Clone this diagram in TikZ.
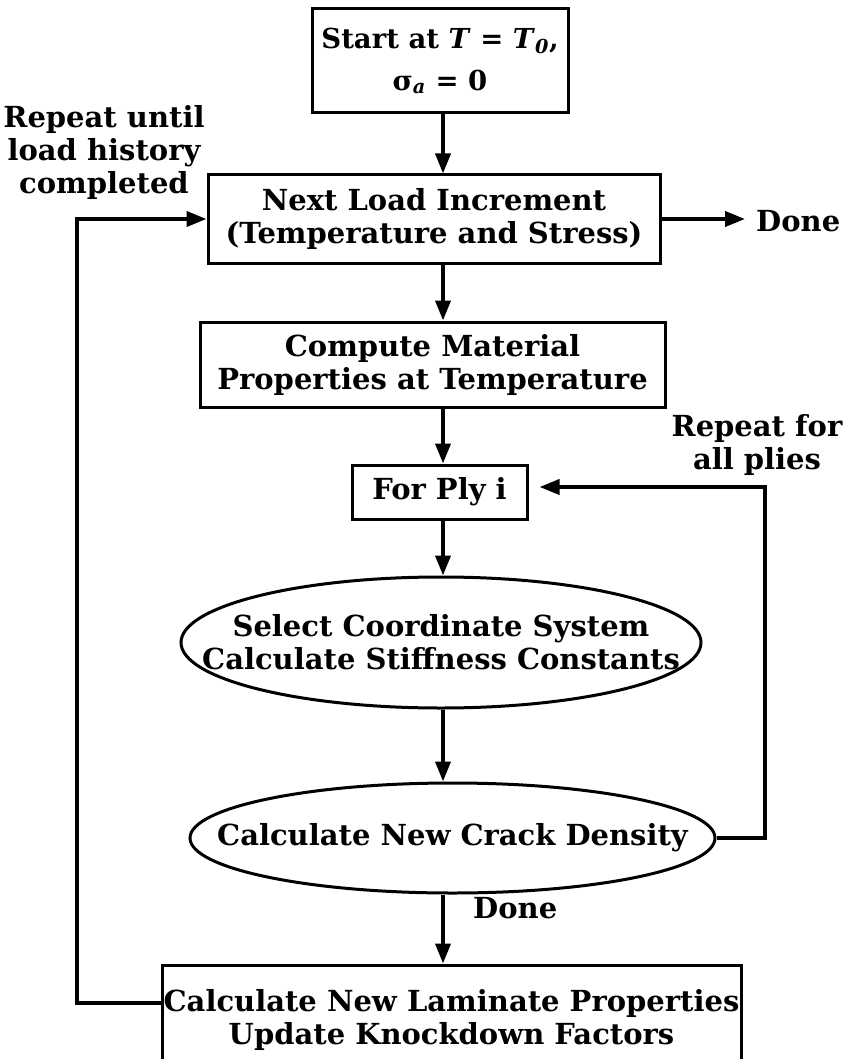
\documentclass[tikz,border=0pt]{standalone}
\usepackage{fontspec}
\setmainfont{DejaVu Serif}
\usetikzlibrary{arrows.meta,shapes.geometric}
\tikzset{
  txt/.style={font=\fontsize{29}{33}\selectfont\bfseries, align=center, inner sep=0pt},
  box/.style={draw, line width=3pt, rectangle, inner sep=0pt, txt},
  oval/.style={draw, line width=3pt, ellipse, inner sep=0pt},
  conn/.style={line width=3.8pt, -{Triangle[length=20pt,width=15pt]}},
}
\begin{document}
\begin{tikzpicture}[x=1pt,y=-1pt]
\useasboundingbox (0,0) rectangle (843,1059);
\fill[white] (0,0) rectangle (843,1059);
\clip (0,0) rectangle (843,1059);
\coordinate (ax) at (443,0);
\coordinate (lc) at (77,1003);
\coordinate (rc) at (765,487);
% nodes
\node[box, minimum width=256pt, minimum height=104pt, font=\fontsize{27.5}{42}\selectfont\bfseries] (start) at (440,61)
  {Start at \textit{T} = \textit{T}\textsubscript{\textit{0}},\\ σ\textsubscript{\textit{a}} = 0};
\node[box, minimum width=452pt, minimum height=88pt] (next) at (434,219)
  {Next Load Increment\\(Temperature and Stress)};
\node[box, minimum width=465pt, minimum height=85pt] (comp) at (432.5,364.5)
  {Compute Material\\Properties at Temperature};
\node[box, minimum width=175pt, minimum height=54pt] (ply) at (439.5,492)
  {For Ply i};
\node[oval, minimum width=520pt, minimum height=131pt] (e1) at (441,642.5) {};
\node[txt] (e1t) at (e1) {Select Coordinate System\\Calculate Stiffness Constants};
\node[oval, minimum width=525pt, minimum height=110pt] (e2) at (452.5,838) {};
\node[txt] (e2t) at (e2) {Calculate New Crack Density};
\node[box, minimum width=579pt, minimum height=110pt] (bot) at (451.5,1020)
  {Calculate New Laminate Properties\\Update Knockdown Factors};
% labels
\node[txt] (rep1) at (104,153) {Repeat until\\load history\\completed};
\node[txt] (rep2) at (757,445) {Repeat for\\all plies};
\node[txt, anchor=west] (done1) at (756,221) {Done};
\node[txt, anchor=west] (done2) at (473,908) {Done};
% connectors
\draw[conn] (start.south -| ax) -- (next.north -| ax);
\draw[conn] (next.south -| ax) -- (comp.north -| ax);
\draw[conn] (comp.south -| ax) -- (ply.north -| ax);
\draw[conn] (ply.south -| ax) -- (e1.north -| ax);
\draw[conn] (e1.south -| ax) -- (e2.north -| ax);
\draw[conn] (e2.south -| ax) -- (bot.north -| ax);
\draw[conn] (next.east) -- ([xshift=-11pt]next.east -| done1.west);
\draw[conn] (bot.west |- lc) -- (lc) -- (lc |- next.west) -- (next.west);
\draw[conn] (e2.east) -- (e2.east -| rc) -- (rc) -- ([xshift=11pt]ply.east |- rc);
\end{tikzpicture}
\end{document}
